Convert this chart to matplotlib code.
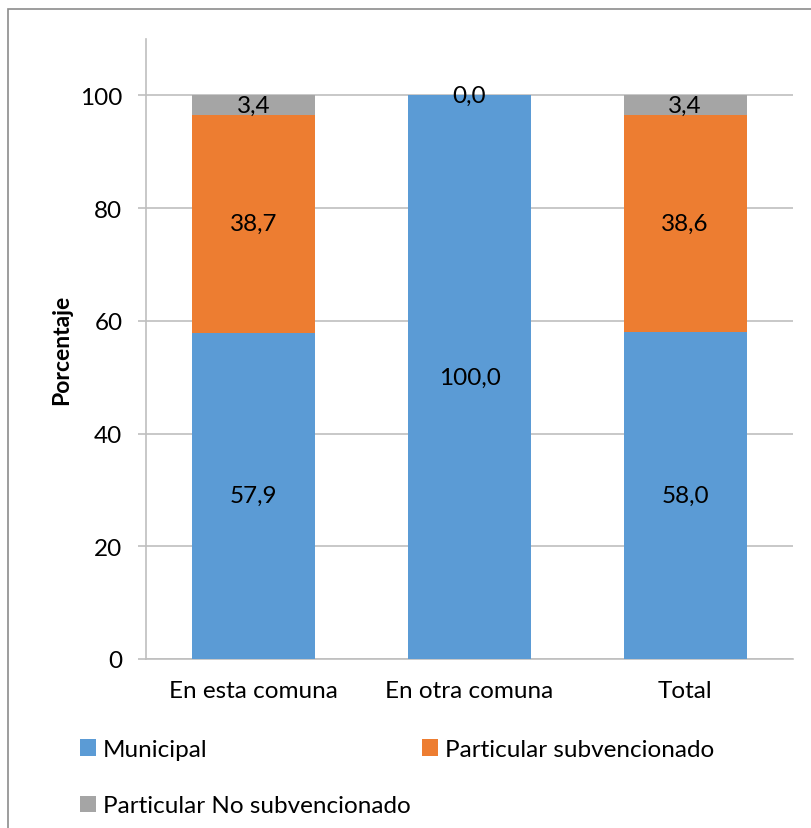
import matplotlib
matplotlib.use('Agg')
import matplotlib.pyplot as plt
import matplotlib.patches as mpatches
import numpy as np

categories = ['En esta comuna', 'En otra comuna', 'Total']
municipal = [57.9, 100.0, 58.0]
subvencionado = [38.7, 0.0, 38.6]
no_subvencionado = [3.4, 0.0, 3.4]
series_names = ['Municipal', 'Particular subvencionado', 'Particular No subvencionado']
colors = ['#5B9BD5', '#ED7D31', '#A5A5A5']
yticks = [0, 20, 40, 60, 80, 100]

plt.rcParams['font.family'] = ['Lato', 'DejaVu Sans']
FS = 17.5

fig = plt.figure(figsize=(8.12, 8.29), dpi=100)
ax = fig.add_axes([146 / 812, 1 - 660 / 829, (793 - 146) / 812, (660 - 40) / 829])

x = np.arange(len(categories))
w = 0.57
series = [municipal, subvencionado, no_subvencionado]
bottom = np.zeros(len(categories))
handles = []
for vals, name, col in zip(series, series_names, colors):
    vals = np.array(vals)
    b = ax.bar(x, vals, w, bottom=bottom, color=col, label=name, zorder=3)
    handles.append(b)
    for xi, v, bo in zip(x, vals, bottom):
        # hide the empty orange segment label, keep the 0,0 of the top one
        if v == 0 and name != 'Particular No subvencionado':
            continue
        ax.text(xi, bo + v / 2, f"{v:.1f}".replace('.', ','), ha='center', va='center',
                fontsize=FS, color='black', zorder=4)
    bottom += vals

ax.set_xlim(-0.5, 2.5)
ax.set_ylim(0, 110)
ax.set_yticks(yticks)
ax.set_xticks(x)
ax.set_xticklabels(categories)
ax.yaxis.grid(True, color='#BFBFBF', linewidth=1.2, zorder=0)
ax.set_axisbelow(True)
for s in ['top', 'right']:
    ax.spines[s].set_visible(False)
for s in ['left', 'bottom']:
    ax.spines[s].set_color('#BFBFBF')
    ax.spines[s].set_linewidth(1.2)
ax.tick_params(axis='y', length=6, color='#BFBFBF', width=1.2, pad=11, labelsize=FS)
ax.tick_params(axis='x', length=0, pad=15, labelsize=FS)
ax.set_ylabel('Porcentaje', fontsize=16.5, fontweight='bold', labelpad=6)

order = [0, 2, 1]
fig.legend([handles[i] for i in order], [series_names[i] for i in order],
           ncol=2, frameon=False, loc='upper left',
           bbox_to_anchor=(80 / 812, 1 - 740 / 829), fontsize=FS,
           handlelength=0.65, handleheight=0.65, handletextpad=0.3,
           columnspacing=0.45, labelspacing=1.45, borderpad=0, borderaxespad=0)

fig.patches.append(mpatches.Rectangle((8 / 812, -0.1), 1.2, 1 - 10 / 829 + 0.1,
                                      transform=fig.transFigure, fill=False,
                                      edgecolor='#8C8C8C', linewidth=1.2))

fig.savefig('out.png', dpi=100)
